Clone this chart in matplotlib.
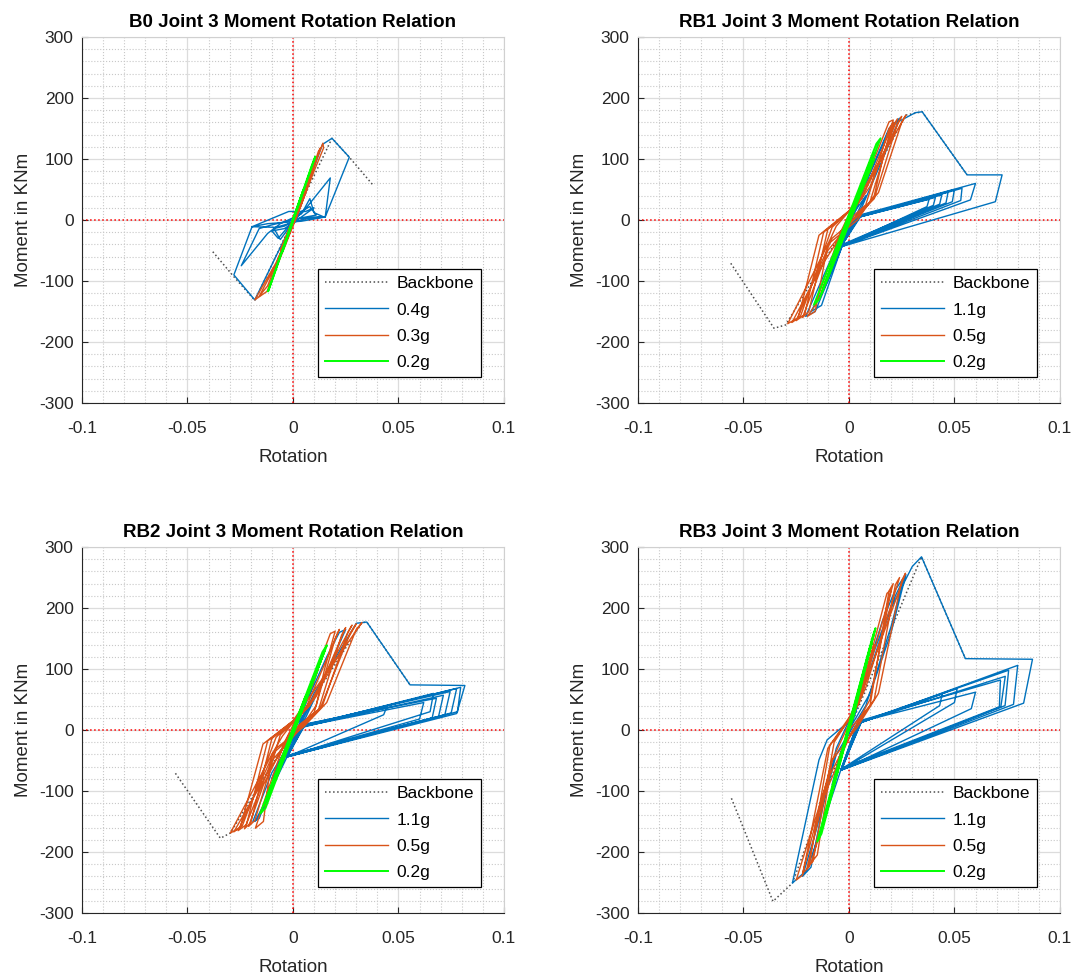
import matplotlib.pyplot as plt
from matplotlib.ticker import MultipleLocator

plt.rcParams['font.family'] = ['Liberation Sans', 'DejaVu Sans']
plt.rcParams['axes.unicode_minus'] = False

# panel titles and legend labels
titles = ['B0 Joint 3 Moment Rotation Relation', 'RB1 Joint 3 Moment Rotation Relation',
          'RB2 Joint 3 Moment Rotation Relation', 'RB3 Joint 3 Moment Rotation Relation']
legend_names = [['0.4g', '0.3g', '0.2g'], ['1.1g', '0.5g', '0.2g'],
                ['1.1g', '0.5g', '0.2g'], ['1.1g', '0.5g', '0.2g']]
x_ticks = [-0.1, -0.05, 0, 0.05, 0.1]
x_tick_labels = ['-0.1', '-0.05', '0', '0.05', '0.1']
y_ticks = [-300, -200, -100, 0, 100, 200, 300]

# (rotation, moment) vertices
# ---------------- B0 ----------------
b0_backbone = [(-0.038, -52), (-0.028, -93), (-0.018, -132), (0, 0), (0.0185, 134), (0.0267, 103), (0.038, 57)]
b0_high = [(0, 0), (0.004, 14), (0.008, 22), (0.011, 8), (0.003, 3), (-0.004, -10), (-0.009, -14),
           (-0.006, -32), (0.0, -4), (0.005, 16), (0.008, 35), (0.010, 12), (0.014, 6), (0.002, 2),
           (-0.010, -8), (-0.016, -14), (-0.0245, -75), (-0.012, -22), (-0.006, -6), (0.004, 10),
           (0.0177, 69), (0.0153, 5), (0.006, 2), (-0.008, -12), (-0.0194, -11), (-0.028, -90),
           (-0.0181, -131), (-0.006, -45), (0.002, 10), (0.014, 124), (0.0185, 134), (0.0267, 103),
           (0.0153, 5), (0.004, -2), (-0.012, -6), (-0.0194, -11), (-0.002, 14), (0.006, 14),
           (0.010, 20), (0.004, 5), (-0.004, -14), (-0.010, -18), (-0.007, -30), (0, -2), (0, 0)]
b0_mid = [(0, 0), (0.003, 22), (-0.003, -25), (0.006, 50), (0.002, 20), (-0.006, -50), (-0.002, -18),
          (0.009, 80), (0.0142, 126), (0.0145, 118), (0.010, 80), (0.002, 8), (-0.008, -70),
          (-0.0181, -131), (-0.0123, -117), (-0.004, -45), (0.004, 25), (0.012, 112), (0.013, 118),
          (0.005, 35), (-0.006, -60), (-0.016, -125), (-0.012, -108), (-0.002, -20), (0.006, 50),
          (0.004, 30), (0, 0)]
b0_low = [(0, 0), (0.005, 50), (-0.005, -52), (0.0106, 104), (0.009, 90), (-0.0118, -117),
          (-0.010, -100), (0.004, 40), (0, 0)]

# ---------------- RB1 ----------------
rb1_backbone = [(-0.056, -71), (-0.0355, -177.5), (-0.030, -172), (0, 0), (0.027, 172), (0.0347, 177.5), (0.056, 74)]
rb1_high = [(0, 0), (0.004, 30), (-0.004, -30), (0.010, 80), (0.006, 40), (-0.010, -80), (-0.006, -50),
            (0.014, 110), (0.019, 150), (0.024, 167), (0.016, 100), (0.006, 20), (-0.008, -60),
            (-0.0205, -158), (-0.016, -150), (-0.004, -50), (0.008, 60), (0.020, 155), (0.0315, 176),
            (0.0347, 177.5), (0.056, 74), (0.0726, 74), (0.0694, 30), (-0.0039, -44), (0.005, 8),
            (0.060, 60), (0.0576, 33), (-0.0039, -44), (0.004, 4), (0.0536, 52), (0.053, 32),
            (-0.0039, -44), (0.005, 6), (0.050, 50), (0.049, 30), (-0.0035, -42), (0.004, 4),
            (0.047, 46), (0.046, 28), (-0.0039, -44), (0.006, 8), (0.044, 41), (0.043, 26),
            (-0.0035, -42), (0.005, 5), (0.041, 37), (0.040, 24), (-0.003, -40), (0.004, 4),
            (0.038, 34), (0.037, 22), (-0.004, -44), (-0.010, -100), (-0.018, -150), (-0.013, -140),
            (-0.002, -30), (0.008, 40), (0, 0)]
rb1_mid = [(0, 0), (0.006, 50), (-0.006, -50), (0.012, 100), (0.010, 80), (-0.004, -20), (-0.012, -100),
           (-0.016, -140), (-0.0197, -158), (-0.016, -150), (-0.010, -40), (-0.006, -10), (0.004, 30),
           (0.019, 161), (0.021, 164), (0.016, 100), (0.012, 40), (0.004, 0), (-0.010, -40),
           (-0.029, -170), (-0.024, -160), (-0.0142, -25), (0.0, 15), (0.006, 45), (0.027, 172),
           (0.025, 160), (0.014, 45), (0.004, 5), (-0.008, -30), (-0.025, -165), (-0.021, -155),
           (-0.012, -20), (0.002, 20), (0.008, 50), (0.025, 170), (0.023, 158), (0.012, 35),
           (0.002, 0), (-0.010, -50), (-0.022, -160), (-0.019, -150), (-0.010, -15), (0.004, 25),
           (0.010, 55), (0.023, 166), (0.021, 155), (0.010, 30), (0.0, -5), (-0.012, -70),
           (-0.027, -168), (-0.023, -158), (-0.008, -12), (0.006, 35), (0.021, 160), (0.019, 150),
           (0.008, 25), (0, 0)]
rb1_low = [(0, 0), (0.006, 55), (-0.006, -55), (0.012, 110), (0.010, 95), (-0.012, -110), (-0.010, -95),
           (0.015, 134), (0.013, 125), (-0.0166, -139), (-0.014, -130), (0.012, 100), (0.009, 85),
           (-0.013, -120), (-0.011, -100), (0.011, 98), (0.002, 14), (0, 0)]

# ---------------- RB2 ----------------
rb2_backbone = [(-0.0557, -71), (-0.0344, -177.5), (-0.0297, -169), (0, 0), (0.0327, 176), (0.035, 177), (0.0555, 74)]
rb2_high = [(0, 0), (0.004, 30), (-0.004, -30), (0.012, 100), (0.008, 60), (-0.010, -80), (-0.006, -50),
            (0.016, 120), (0.022, 160), (0.025, 165), (0.018, 110), (0.006, 20), (-0.010, -70),
            (-0.019, -150), (-0.016, -145), (-0.004, -40), (0.010, 60), (0.030, 175), (0.035, 177),
            (0.0555, 74), (0.0815, 73), (0.0776, 27), (-0.0028, -44), (0.004, 6), (0.0776, 68),
            (0.075, 28), (-0.0028, -44), (0.005, 8), (0.0745, 63), (0.072, 25), (-0.003, -42),
            (0.004, 5), (0.0713, 57), (0.069, 22), (-0.0028, -44), (0.006, 10), (0.068, 52),
            (0.066, 20), (-0.0025, -42), (0.005, 6), (0.0666, 60), (0.065, 30), (-0.003, -44),
            (0.004, 4), (0.0445, 38), (0.043, 25), (-0.0028, -44), (0.005, 6), (0.062, 45),
            (0.060, 18), (-0.003, -43), (0.004, 5), (0.0795, 70), (0.078, 30), (-0.0028, -44),
            (-0.012, -110), (-0.018, -150), (-0.014, -130), (-0.002, -30), (0.008, 40), (0, 0)]
rb2_mid = [(0, 0), (0.006, 50), (-0.006, -50), (0.012, 100), (0.009, 70), (-0.004, -20), (-0.012, -100),
           (-0.0178, -161), (-0.014, -150), (-0.010, -40), (-0.005, -10), (0.004, 30), (0.0177, 158),
           (0.020, 162), (0.015, 100), (0.011, 40), (0.003, 0), (-0.010, -40), (-0.0297, -169),
           (-0.025, -160), (-0.0142, -23), (0.0, 15), (0.006, 45), (0.0327, 176), (0.030, 165),
           (0.016, 45), (0.005, 5), (-0.008, -30), (-0.026, -165), (-0.022, -155), (-0.012, -18),
           (0.002, 20), (0.009, 50), (0.028, 172), (0.026, 160), (0.014, 40), (0.003, 0),
           (-0.010, -50), (-0.023, -162), (-0.020, -152), (-0.010, -14), (0.004, 25), (0.011, 55),
           (0.025, 168), (0.023, 155), (0.012, 32), (0.0, -5), (-0.012, -70), (-0.028, -167),
           (-0.024, -157), (-0.008, -12), (0.006, 35), (0.022, 165), (0.020, 150), (0.010, 28),
           (-0.002, -8), (-0.014, -90), (-0.021, -158), (-0.018, -148), (-0.006, -8), (0.008, 40),
           (0.030, 174), (0.027, 158), (0.013, 36), (0, 0)]
rb2_low = [(0, 0), (0.006, 55), (-0.006, -55), (0.012, 105), (0.010, 88), (-0.012, -110), (-0.010, -95),
           (0.0161, 139), (0.014, 128), (-0.0155, -137), (-0.013, -128), (0.013, 112), (0.011, 96),
           (-0.014, -125), (-0.011, -102), (0.015, 130), (0.002, 12), (0, 0)]

# ---------------- RB3 ----------------
rb3_backbone = [(-0.0557, -112), (-0.036, -281), (-0.0268, -251), (0, 0), (0.0344, 284), (0.0552, 117)]
rb3_high = [(0, 0), (0.004, 40), (-0.004, -40), (0.010, 110), (0.007, 70), (-0.008, -90), (-0.005, -50),
            (0.016, 180), (0.022, 230), (0.026, 250), (0.020, 170), (0.008, 40), (-0.006, -40),
            (-0.016, -170), (-0.022, -240), (-0.018, -225), (-0.012, -120), (-0.006, -30), (0.006, 60),
            (0.020, 200), (0.030, 268), (0.0344, 284), (0.0552, 117), (0.087, 116), (0.0828, 44),
            (-0.0039, -66), (0.004, 10), (0.080, 106), (0.078, 42), (-0.0039, -66), (0.006, 14),
            (0.0757, 98), (0.074, 40), (-0.0035, -64), (0.005, 12), (0.0741, 88), (0.072, 38),
            (-0.0039, -66), (0.006, 16), (0.0718, 82), (0.0713, 38), (-0.003, -62), (0.005, 12),
            (0.0513, 68), (0.050, 45), (-0.0039, -66), (0.004, 10), (0.0442, 59), (0.043, 40),
            (-0.0035, -64), (0.006, 14), (0.060, 62), (0.058, 35), (-0.0039, -66), (-0.012, -150),
            (-0.020, -230), (-0.0268, -251), (-0.0142, -49), (-0.0103, -16), (0.0, 14), (0.012, 130),
            (0.022, 220), (0.027, 255), (0.020, 160), (0.010, 60), (0, 0)]
rb3_mid = [(0, 0), (0.006, 70), (-0.006, -70), (0.012, 140), (0.009, 100), (-0.004, -40), (-0.012, -150),
           (-0.018, -218), (-0.015, -205), (-0.008, -50), (-0.004, -20), (0.004, 40), (0.018, 224),
           (0.020, 230), (0.015, 140), (0.010, 50), (0.002, 0), (-0.010, -80), (-0.025, -246),
           (-0.022, -238), (-0.010, -30), (0.0, 20), (0.006, 60), (0.0268, 257), (0.025, 245),
           (0.014, 60), (0.004, 5), (-0.008, -50), (-0.022, -235), (-0.019, -225), (-0.009, -25),
           (0.002, 25), (0.008, 70), (0.024, 250), (0.022, 238), (0.012, 50), (0.001, -5),
           (-0.012, -110), (-0.020, -228), (-0.017, -215), (-0.007, -20), (0.005, 45), (0.021, 240),
           (0.019, 228), (0.010, 40), (0, 0)]
rb3_low = [(0, 0), (0.006, 80), (-0.006, -75), (0.010, 135), (0.008, 110), (-0.012, -150), (-0.010, -125),
           (0.0126, 167), (0.011, 150), (-0.015, -183), (-0.013, -170), (0.011, 145), (0.009, 120),
           (-0.014, -175), (-0.011, -140), (0.012, 160), (0.002, 20), (0, 0)]

panels = [(b0_backbone, b0_high, b0_mid, b0_low),
          (rb1_backbone, rb1_high, rb1_mid, rb1_low),
          (rb2_backbone, rb2_high, rb2_mid, rb2_low),
          (rb3_backbone, rb3_high, rb3_mid, rb3_low)]

colors = [(0, 0.447, 0.741), (0.85, 0.325, 0.098), (0, 1, 0)]
widths = [1.0, 1.0, 1.4]

# axes rectangles in figure fractions (1080 x 980 px)
rects = [[0.0759, 0.5888, 0.3907, 0.3734], [0.5907, 0.5888, 0.3907, 0.3734],
         [0.0759, 0.0684, 0.3907, 0.3734], [0.5907, 0.0684, 0.3907, 0.3734]]

fig = plt.figure(figsize=(10.8, 9.8), dpi=100)

for i in range(4):
    ax = fig.add_axes(rects[i])
    backbone, high, mid, low = panels[i]

    ax.axhline(0, color='red', linestyle=':', lw=1.1, zorder=1)
    ax.axvline(0, color='red', linestyle=':', lw=1.1, zorder=1)

    ax.plot([p[0] for p in backbone], [p[1] for p in backbone], ':', color='0.3', lw=1.1,
            label='Backbone', zorder=2)
    for pts, col, w, name in zip([high, mid, low], colors, widths, legend_names[i]):
        ax.plot([p[0] for p in pts], [p[1] for p in pts], color=col, lw=w, label=name, zorder=3)

    ax.set_xlim(-0.1, 0.1)
    ax.set_ylim(-300, 300)
    ax.set_xticks(x_ticks)
    ax.set_xticklabels(x_tick_labels)
    ax.set_yticks(y_ticks)
    ax.xaxis.set_minor_locator(MultipleLocator(0.01))
    ax.yaxis.set_minor_locator(MultipleLocator(20))
    ax.grid(which='major', color='#dcdcdc', lw=0.9)
    ax.grid(which='minor', color='#c8c8c8', linestyle=':', lw=0.8)
    ax.set_axisbelow(True)
    ax.tick_params(which='major', direction='in', length=4, labelsize=12.5, colors='#262626')
    ax.tick_params(which='minor', length=0)
    ax.tick_params(axis='x', pad=13)
    ax.tick_params(axis='y', pad=6)
    for s in ['left', 'bottom']:
        ax.spines[s].set_color('#262626')
    for s in ['top', 'right']:
        ax.spines[s].set_color('#d0d0d0')

    ax.set_title(titles[i], fontsize=13.5, fontweight='bold', pad=7)
    ax.set_xlabel('Rotation', fontsize=13.5, color='#262626', labelpad=9)
    ax.set_ylabel('Moment in KNm', fontsize=13.5, color='#262626', labelpad=5)

    leg = ax.legend(loc='lower right', bbox_to_anchor=(0.9455, 0.071), borderaxespad=0,
                    fontsize=12.5, fancybox=False, framealpha=1, edgecolor='black',
                    handlelength=3.6, labelspacing=0.64, borderpad=0.4, handletextpad=0.5)
    leg.get_frame().set_linewidth(0.9)
    leg.set_zorder(5)

fig.savefig('out.png', dpi=100)
